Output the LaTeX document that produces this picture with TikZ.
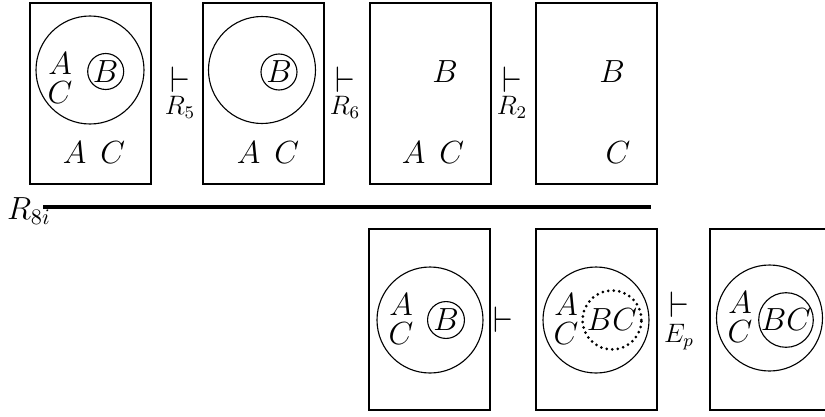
\documentclass[tikz,border=0pt]{standalone}
\usepackage{graphicx}
\usetikzlibrary{positioning}
\tikzset{
  frame/.style={line width=1.3pt},
  ring/.style={line width=0.5pt},
  cell/.style={circle, draw, line width=0.5pt, inner sep=0.5pt},
  dotcell/.style={circle, draw, line width=1.35pt, dash pattern=on 0pt off 2.5pt, line cap=round, inner sep=0.5pt},
  lbl/.style={font=\Large, inner sep=0pt},
  turn/.style={font=\Large, inner sep=0pt},
  rlabel/.style={font=\large, inner sep=0pt},
}
\NewDocumentCommand{\Panel}{O{(0,0)}}{
    \begin{scope}[shift={#1}]
    \draw[frame] (0,0) rectangle (121,181);
    \end{scope}
}
\newcommand{\Vdash}{\scalebox{1}[1.15]{$\vdash$}}

\begin{document}
\begin{tikzpicture}[x=0.45pt, y=-0.45pt]
\clip (0,0) rectangle (825,416);
\useasboundingbox (0,0) rectangle (825,416);

% top row
\Panel[(30,3)]
\Panel[(203,3)]
\Panel[(370,3)]
\Panel[(536,3)]

\draw[ring] (90,70) circle (54);
\node[cell, minimum size=16.2pt, lbl] (B1) at (105.7,71.5) {$B$};
\node[lbl] (A1) at (60,64) {$A$};
\node[lbl] (C1) at (60,93) {$C$};
\node[lbl] (AC1) at (94,153) {$A\;\,C$};

\draw[ring] (262,70) circle (53.5);
\node[cell, minimum size=16.2pt, lbl] (B2) at (279,72) {$B$};
\node[lbl] (AC2) at (268,153) {$A\;\,C$};

\node[lbl] (B3) at (445,72) {$B$};
\node[lbl] (AC3) at (433,153) {$A\;\,C$};

\node[lbl] (B4) at (612,72) {$B$};
\node[lbl] (C4) at (618,153) {$C$};

\node[turn] (T1) at (180,80) {\Vdash};
\node[rlabel] (R5) at (180,107) {$R_5$};
\node[turn] (T2) at (345,80) {\Vdash};
\node[rlabel] (R6) at (345,107) {$R_6$};
\node[turn] (T3) at (512,80) {\Vdash};
\node[rlabel] (R2) at (512,107) {$R_2$};

% inference rule
\node[lbl] (R8) at (29,211) {$R_{8i}$};
\coordinate (rule-start) at (43,207);
\coordinate (rule-end) at (651,207);
\draw[line width=2.1pt] (rule-start) -- (rule-end);

% bottom row
\Panel[(369,229)]
\Panel[(536,229)]
\Panel[(710,229)]

\draw[ring] (430,320) circle (53);
\node[cell, minimum size=16.6pt, lbl] (B5) at (446,320) {$B$};
\node[lbl] (A5) at (401,305) {$A$};
\node[lbl] (C5) at (401,334) {$C$};

\draw[ring] (596,320) circle (53);
\node[dotcell, minimum size=26.5pt, lbl] (BC6) at (612,320) {$BC$};
\node[lbl] (A6) at (566,305) {$A$};
\node[lbl] (C6) at (566,334) {$C$};

\draw[ring] (769.5,318) circle (53);
\node[cell, minimum size=24.3pt, lbl] (BC7) at (786,320) {$BC$};
\node[lbl] (A7) at (740,303) {$A$};
\node[lbl] (C7) at (740,332) {$C$};

\node[turn] (T4) at (503,320) {\Vdash};
\node[turn] (T5) at (679,305) {\Vdash};
\node[rlabel] (Ep) at (679,337) {$E_p$};

\end{tikzpicture}
\end{document}
